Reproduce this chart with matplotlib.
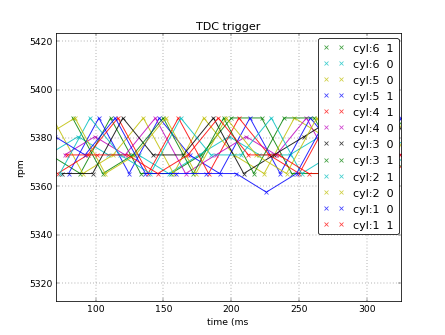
import matplotlib
matplotlib.use("Agg")
import matplotlib.pyplot as plt

plt.style.use("classic")

# rpm levels seen in the chart
A, B, C, D, E = 5388.3, 5380.6, 5373.0, 5365.3, 5357.6

labels = ["cyl:6  1", "cyl:6  0", "cyl:5  0", "cyl:5  1", "cyl:4  1", "cyl:4  0",
          "cyl:3  0", "cyl:3  1", "cyl:2  1", "cyl:2  0", "cyl:1  0", "cyl:1  1"]
colors = ["g", "c", "y", "b", "r", "m", "k", "g", "c", "y", "b", "r"]

# first trigger time of each series (ms) and trigger period (ms)
start_times = [66.4, 64.8, 68.3, 80.1, 71.9, 77.2, 75.5, 83.0, 73.6, 62.5, 69.9, 79.0]
period = 22.3

rpm_values = [
    [C, D, A, D, D, C, A, A, D, D, A, C, D],
    [C, B, C, C, D, C, B, C, C, B, D, C, B],
    [A, D, C, A, D, A, C, D, A, B, D, D, A],
    [D, A, D, A, C, D, A, D, A, C, D, A, D],
    [D, C, A, D, A, D, A, C, D, A, D, D, C],
    [C, B, C, A, D, C, B, C, A, D, B, C, C],
    [D, D, A, C, C, A, D, C, B, A, D, A, D],
    [A, D, C, A, D, A, D, A, A, D, C, A, D],
    [D, A, C, D, A, C, C, A, D, C, B, C, D],
    [B, A, D, C, A, D, A, C, D, A, D, C, A],
    [B, C, A, D, D, D, D, E, D, A, D, C, C],
    [C, C, C, D, C, A, C, C, D, D, C, C, B],
]

fig = plt.figure(figsize=(8, 6.04), dpi=55.625)
ax = fig.add_subplot(111)

for lab, col, t0, vals in zip(labels, colors, start_times, rpm_values):
    times = [t0 + k * period for k in range(len(vals))]
    ax.plot(times, vals, "-", color=col, alpha=0.85, lw=1.25)
    ax.plot(times, vals, "x", color=col, alpha=0.75, mec=col, ms=6, mew=1.0,
            label=lab)

ax.set_xlim(70.5, 325)
ax.set_ylim(5312.4, 5423.6)
ax.set_xticks([100, 150, 200, 250, 300])
ax.set_yticks([5320, 5340, 5360, 5380, 5400, 5420])
ax.grid(True)
ax.set_title("TDC trigger")
ax.set_xlabel("time (ms")
ax.set_ylabel("rpm")
leg = ax.legend(loc="upper right", numpoints=2, fancybox=True,
                bbox_to_anchor=(1 - 2.0 / 345, 1 - 5.5 / 268), borderaxespad=0,
                labelspacing=0.55)

fig.savefig("out.png", dpi=55.625)
